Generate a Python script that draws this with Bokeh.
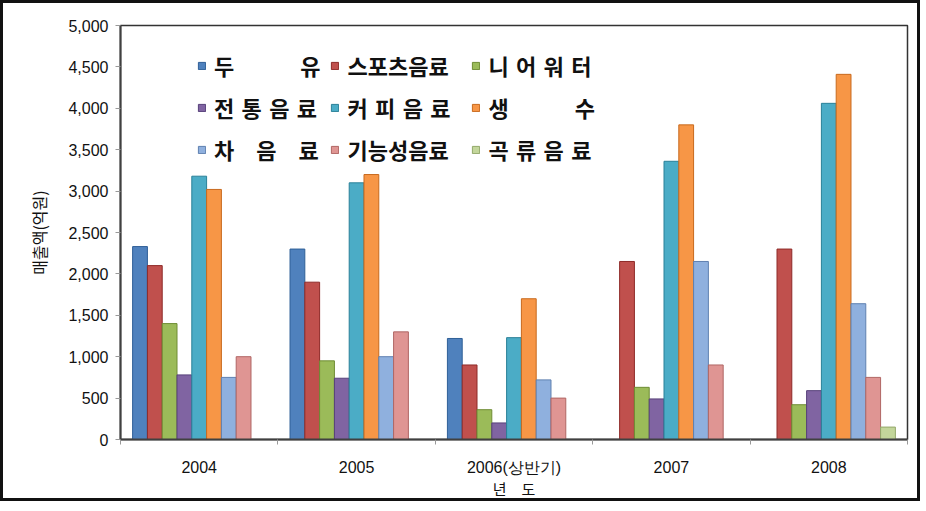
import numpy as np
from bokeh.plotting import figure
from bokeh.models import Range1d, FixedTicker, NumeralTickFormatter, Legend, LegendItem
from bokeh.embed import file_html
from bokeh.resources import INLINE

# ---- data ----
years = ["2004", "2005", "2006(상반기)", "2007", "2008"]
series_names = ["두\u3000\u3000\u3000유", "스포츠음료\u2002", "니\u2004어\u2004워\u2004터",
                "전\u2004통\u2004음\u2004료", "커\u2004피\u2004음\u2004료\u2002", "생\u3000\u3000\u3000수",
                "차\u3000음\u3000료", "기능성음료\u2002", "곡\u2004류\u2004음\u2004료"]
soy_milk      = [2330, 2300, 1220, 0, 0]
sports        = [2100, 1900, 900, 2150, 2300]
near_water    = [1400, 950, 360, 630, 420]
traditional   = [780, 740, 200, 490, 590]
coffee        = [3180, 3100, 1230, 3360, 4060]
water         = [3020, 3200, 1700, 3800, 4410]
tea           = [750, 1000, 720, 2150, 1640]
functional    = [1000, 1300, 500, 900, 750]
grain         = [0, 0, 0, 0, 150]
series_values = [soy_milk, sports, near_water, traditional, coffee, water,
                 tea, functional, grain]
y_ticks = [0, 500, 1000, 1500, 2000, 2500, 3000, 3500, 4000, 4500, 5000]

colors = ["#4F81BD", "#C0504D", "#9BBB59", "#8064A2", "#4BACC6", "#F79646",
          "#8FB0DE", "#DF9593", "#C3D69B"]
edges = ["#2F5F97", "#8E2A28", "#6E8C34", "#57407A", "#2A8098", "#C86A1E",
         "#5F80B0", "#B06664", "#93A86A"]

W, H = 914, 495
p = figure(width=W, height=H, output_backend="svg", toolbar_location=None,
           x_range=Range1d(0, len(years)), y_range=Range1d(0, 5000),
           min_border_left=117, min_border_right=16, min_border_top=22,
           min_border_bottom=65)
# outer frame of the picture
p.styles = {"border": "3px solid #111111", "box-sizing": "content-box"}

group_x = np.arange(len(years)) + 0.5
bw = 0.094
n = len(series_values)
renderers = []
for i, vals in enumerate(series_values):
    r = p.vbar(x=group_x + (i - (n - 1) / 2) * bw, top=vals, width=bw,
               fill_color=colors[i], line_color=edges[i], line_width=1)
    renderers.append(r)

# axes
p.xgrid.visible = False
p.ygrid.visible = False
p.outline_line_color = "#333333"
p.outline_line_width = 1.5

xa = p.xaxis[0]
xa.ticker = FixedTicker(ticks=list(group_x), minor_ticks=list(range(len(years) + 1)))
xa.major_label_overrides = {float(g): y for g, y in zip(group_x, years)}
xa.major_tick_out = 0
xa.major_tick_in = 0
xa.minor_tick_out = 5
xa.minor_tick_in = 0
xa.minor_tick_line_color = "#999999"
xa.axis_line_color = "#404040"
xa.axis_line_width = 2
xa.major_label_text_font = "Liberation Sans"
xa.major_label_text_font_size = "16px"
xa.major_label_text_color = "#111111"
xa.major_label_standoff = 14
xa.axis_label = "년\u3000도"
xa.axis_label_text_font = "Noto Sans CJK KR"
xa.axis_label_text_font_style = "normal"
xa.axis_label_text_font_size = "15px"
xa.axis_label_text_color = "#111111"
xa.axis_label_standoff = -1

ya = p.yaxis[0]
ya.ticker = FixedTicker(ticks=y_ticks)
ya.formatter = NumeralTickFormatter(format="0,0")
ya.major_tick_out = 5
ya.major_tick_in = 0
ya.minor_tick_out = 0
ya.minor_tick_in = 0
ya.major_tick_line_color = "#999999"
ya.axis_line_color = "#404040"
ya.axis_line_width = 2
ya.major_label_text_font = "Liberation Sans"
ya.major_label_text_font_size = "16px"
ya.major_label_text_color = "#111111"
ya.major_label_standoff = 7
ya.axis_label = "매출액(억원)"
ya.axis_label_text_font = "Noto Sans CJK KR"
ya.axis_label_text_font_style = "normal"
ya.axis_label_text_font_size = "16px"
ya.axis_label_text_color = "#111111"
ya.axis_label_standoff = 14

legend = Legend(items=[LegendItem(label=nm, renderers=[r]) for nm, r in zip(series_names, renderers)],
                location=(77, 274), orientation="horizontal", ncols=3,
                padding=0, spacing=10, glyph_width=9, glyph_height=9,
                label_standoff=8, label_height=22,
                label_text_font="Noto Sans CJK KR", label_text_font_style="bold",
                label_text_font_size="22px", label_text_color="#111111",
                border_line_alpha=0, background_fill_alpha=0)
p.add_layout(legend)

open("out.html", "w").write(file_html(p, INLINE))
